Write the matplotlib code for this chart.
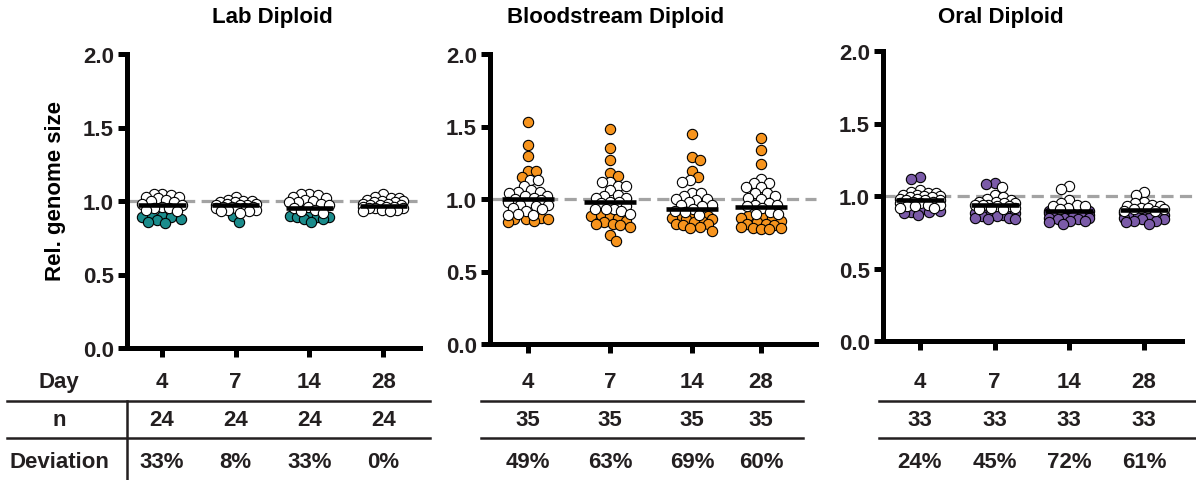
import numpy as np
import matplotlib
matplotlib.use("Agg")
import matplotlib.pyplot as plt
from matplotlib.lines import Line2D
from matplotlib.transforms import blended_transform_factory

# ---------------------------------------------------------------- data
days = ["4", "7", "14", "28"]

lab_n = [24, 24, 24, 24]
lab_deviation = [33, 8, 33, 0]
lab_mean = [0.97, 0.97, 0.95, 0.965]
lab_stable = [
    [1.05, 1.05, 1.04, 1.03, 1.03, 1.02, 1.01, 1.00, 0.99, 0.98, 0.97, 0.96, 0.95, 0.95, 0.94, 0.93],
    [1.03, 1.01, 1.00, 1.00, 0.99, 0.99, 0.98, 0.98, 0.97, 0.97, 0.97, 0.96, 0.96, 0.96, 0.95,
     0.95, 0.95, 0.94, 0.94, 0.93, 0.93, 0.92],
    [1.05, 1.05, 1.04, 1.03, 1.02, 1.01, 1.00, 0.99, 0.99, 0.98, 0.97, 0.96, 0.95, 0.94, 0.93, 0.92],
    [1.05, 1.03, 1.02, 1.02, 1.01, 1.00, 1.00, 0.99, 0.99, 0.98, 0.98, 0.97, 0.97, 0.97, 0.96,
     0.96, 0.96, 0.95, 0.95, 0.95, 0.94, 0.94, 0.93, 0.93],
]
lab_deviant = [
    [0.90, 0.90, 0.89, 0.89, 0.88, 0.87, 0.86, 0.85],
    [0.90, 0.86],
    [0.90, 0.90, 0.89, 0.89, 0.89, 0.88, 0.88, 0.86],
    [],
]

blood_n = [35, 35, 35, 35]
blood_deviation = [49, 63, 69, 60]
blood_mean = [1.00, 0.976, 0.93, 0.945]
blood_stable = [
    [1.13, 1.13, 1.09, 1.06, 1.05, 1.05, 1.04, 1.02, 1.02, 1.01, 1.00, 0.99, 0.98, 0.97, 0.96,
     0.96, 0.95, 0.94, 0.93, 0.92, 0.90, 0.89, 0.89],
    [1.12, 1.12, 1.09, 1.09, 1.06, 1.03, 1.02, 1.01, 1.01, 0.98, 0.98, 0.97, 0.95, 0.93, 0.93,
     0.93, 0.92, 0.90],
    [1.13, 1.12, 1.04, 1.04, 1.02, 1.00, 1.00, 0.99, 0.98, 0.96, 0.96, 0.95, 0.93, 0.92, 0.91, 0.89],
    [1.14, 1.11, 1.11, 1.08, 1.08, 1.04, 1.04, 1.02, 1.01, 1.00, 0.97, 0.96, 0.96, 0.95, 0.94,
     0.91, 0.90, 0.90],
]
blood_deviant = [
    [1.53, 1.37, 1.30, 1.19, 1.19, 1.15, 0.87, 0.86, 0.86, 0.85, 0.84, 0.86],
    [1.48, 1.35, 1.27, 1.18, 1.16, 0.89, 0.88, 0.88, 0.87, 0.85, 0.84, 0.83, 0.83, 0.82, 0.81,
     0.75, 0.71],
    [1.45, 1.29, 1.27, 1.19, 1.15, 0.88, 0.88, 0.87, 0.87, 0.86, 0.86, 0.85, 0.84, 0.83, 0.83,
     0.82, 0.81, 0.80, 0.78],
    [1.42, 1.34, 1.24, 0.88, 0.88, 0.87, 0.87, 0.85, 0.84, 0.83, 0.83, 0.82, 0.81, 0.80, 0.80,
     0.79, 0.79],
]

oral_n = [33, 33, 33, 33]
oral_deviation = [24, 45, 72, 61]
oral_mean = [0.97, 0.94, 0.90, 0.905]
oral_stable = [
    [1.04, 1.03, 1.02, 1.02, 1.01, 1.01, 1.00, 1.00, 0.99, 0.99, 0.98, 0.98, 0.97, 0.97, 0.97,
     0.96, 0.96, 0.95, 0.95, 0.94, 0.94, 0.93, 0.93, 0.92, 0.92],
    [1.06, 1.01, 0.99, 0.98, 0.97, 0.96, 0.96, 0.95, 0.95, 0.94, 0.94, 0.94, 0.93, 0.93, 0.92,
     0.92, 0.91, 0.91],
    [1.07, 1.05, 0.97, 0.95, 0.94, 0.93, 0.93, 0.92, 0.91],
    [1.03, 1.01, 0.96, 0.95, 0.94, 0.93, 0.93, 0.92, 0.92, 0.91, 0.91, 0.90, 0.90],
]
oral_deviant = [
    [1.13, 1.12, 0.91, 0.90, 0.89, 0.89, 0.88, 0.87],
    [1.09, 1.08, 0.90, 0.89, 0.89, 0.88, 0.88, 0.87, 0.87, 0.86, 0.86, 0.85, 0.85, 0.84, 0.84],
    [0.90, 0.90, 0.90, 0.89, 0.89, 0.89, 0.88, 0.88, 0.88, 0.87, 0.87, 0.87, 0.86, 0.86, 0.86,
     0.85, 0.85, 0.85, 0.84, 0.84, 0.83, 0.83, 0.82, 0.81],
    [0.89, 0.89, 0.89, 0.88, 0.88, 0.88, 0.87, 0.87, 0.87, 0.86, 0.86, 0.86, 0.85, 0.85, 0.84,
     0.84, 0.83, 0.83, 0.82, 0.81],
]

# ---------------------------------------------------------------- style
plt.rcParams['font.family'] = ['Liberation Sans', 'DejaVu Sans']
plt.rcParams['font.weight'] = 'bold'
TEXT = '#231f20'
FS = 16

W, H = 1196, 481
fig = plt.figure(figsize=(W / 100, H / 100), dpi=100)


def fx(p):
    return p / W


def fy(p):
    return 1 - p / H


panels = [
    dict(title="Lab Diploid", title_x=272, color='#1b8c8c',
         stable=lab_stable, deviant=lab_deviant, mean=lab_mean,
         n=lab_n, dev=lab_deviation,
         box=(127, 55, 420, 349), pos=[0, 1, 2, 3], xlim=(-0.475, 3.50),
         rule=(7, 430), ref_ext=0.0),
    dict(title="Bloodstream Diploid", title_x=616, color='#f7941d',
         stable=blood_stable, deviant=blood_deviant, mean=blood_mean,
         n=blood_n, dev=blood_deviation,
         box=(490, 55, 816, 345), pos=[0, 1, 2, 2.84], xlim=(-0.463, 3.51),
         rule=(481, 803), ref_ext=0.0),
    dict(title="Oral Diploid", title_x=1001, color='#7b5ba8',
         stable=oral_stable, deviant=oral_deviant, mean=oral_mean,
         n=oral_n, dev=oral_deviation,
         box=(883, 52, 1182, 342), pos=[0, 1, 2, 3], xlim=(-0.495, 3.51),
         rule=(879, 1196), ref_ext=0.2),
]

DIAM = 8.5       # spacing kept between dot centres, pixels (dots may touch)
HALF = 20.0      # maximum sideways spread of a swarm, pixels


def swarm(values, ppx, ppy):
    """Greedy beeswarm: sideways offsets (data units) that keep dots apart
    inside a limited width, letting them overlap when crowded."""
    vals = np.asarray(values, dtype=float)
    ys = vals * ppy
    cand = np.arange(-HALF, HALF + 0.01, 0.5)
    offs = np.zeros(len(vals))
    px, py = [], []
    for k, i in enumerate(np.argsort(-vals, kind='stable')):
        if px:
            dx = cand[:, None] - np.array(px)[None, :]
            dy = ys[i] - np.array(py)[None, :]
            ov = np.clip(DIAM - np.hypot(dx, dy), 0, None)
            sgn = 1 if k % 2 else -1
            score = (ov ** 2).sum(axis=1) + 0.05 * np.abs(cand) + 1e-4 * sgn * cand
            c = cand[np.argmin(score)]
        else:
            c = 0.0
        offs[i] = c / ppx
        px.append(c)
        py.append(ys[i])
    return offs


for p in panels:
    l, t, r, b = p['box']
    ax = fig.add_axes([fx(l), fy(b), fx(r - l), (b - t) / H])
    ax.set_xlim(*p['xlim'])
    ax.set_ylim(0, 2.0)
    ppx = (r - l) / (p['xlim'][1] - p['xlim'][0])
    ppy = (b - t) / 2.0

    for s in ('top', 'right'):
        ax.spines[s].set_visible(False)
    for s in ('left', 'bottom'):
        ax.spines[s].set_linewidth(3.6)
        ax.spines[s].set_color('black')
    ax.set_yticks([0, 0.5, 1.0, 1.5, 2.0])
    ax.set_yticklabels([f"{v:.1f}" for v in [0, 0.5, 1.0, 1.5, 2.0]],
                       fontsize=FS, fontweight='bold', color=TEXT)
    ax.set_xticks(p['pos'])
    ax.set_xticklabels([])
    ax.tick_params(axis='both', width=3.6, length=6.5, color='black')
    ax.tick_params(axis='y', pad=3.0)

    # reference line at relative size 1.0
    ax.plot([p['xlim'][0], p['xlim'][1] + p['ref_ext']], [1.0, 1.0],
            color='#a3a3a3', lw=2.3, dashes=(3.8, 2.0), zorder=1, clip_on=False,
            solid_capstyle='butt', dash_capstyle='butt')

    for j, x0 in enumerate(p['pos']):
        dev = p['deviant'][j]
        stb = p['stable'][j]
        vals = list(dev) + list(stb)
        offs = swarm(vals, ppx, ppy)
        nd = len(dev)
        if nd:
            ax.scatter(x0 + offs[:nd], dev, s=55, facecolor=p['color'],
                       edgecolor='black', linewidth=0.8, zorder=3, clip_on=False)
        ax.scatter(x0 + offs[nd:], stb, s=55, facecolor='white',
                   edgecolor='black', linewidth=0.8, zorder=4, clip_on=False)
        ax.plot([x0 - 0.32, x0 + 0.32], [p['mean'][j]] * 2, color='black',
                lw=3.3, solid_capstyle='butt', zorder=5)

    fig.text(fx(p['title_x']), fy(17), p['title'], ha='center', va='center',
             fontsize=FS, fontweight='bold', color='black')

    # table under the panel
    tr = blended_transform_factory(ax.transData, fig.transFigure)
    for j, x0 in enumerate(p['pos']):
        fig.text(x0, fy(383), days[j], transform=tr, ha='center', va='center',
                 fontsize=FS, fontweight='bold', color=TEXT)
        fig.text(x0, fy(421), str(p['n'][j]), transform=tr, ha='center', va='center',
                 fontsize=FS, fontweight='bold', color=TEXT)
        fig.text(x0, fy(462), f"{p['dev'][j]}%", transform=tr, ha='center', va='center',
                 fontsize=FS, fontweight='bold', color=TEXT)
    x_a, x_b = p['rule']
    for yy in (402, 439):
        fig.add_artist(Line2D([fx(x_a), fx(x_b)], [fy(yy), fy(yy)],
                              color='#231f20', lw=1.8))

# row headers and the vertical divider of the first table
for label, yy in (("Day", 383), ("n", 421), ("Deviation", 462)):
    fig.text(fx(59), fy(yy), label, ha='center', va='center',
             fontsize=FS, fontweight='bold', color=TEXT)
fig.add_artist(Line2D([fx(127), fx(127)], [fy(402), fy(481)], color='#231f20', lw=1.8))

fig.text(fx(55), fy(191), "Rel. genome size", rotation=90, ha='center', va='center',
         fontsize=FS, fontweight='bold', color='black')

fig.savefig("out.png", dpi=100, facecolor='white')
